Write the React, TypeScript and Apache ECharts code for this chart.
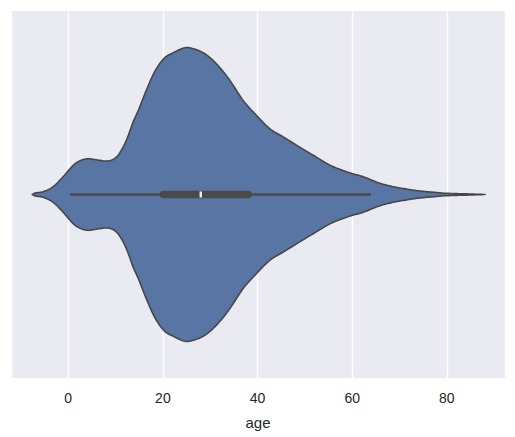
import React, { useEffect, useRef } from "react";
import * as echarts from "echarts";

// Violin outline: age values and relative density (max = 1)
const ages = [-7.6, -7.0, -5.3, -3.2, -1.1, 1.1, 2.5, 4.2, 5.6, 8.5, 10.2, 11.6, 12.7, 13.7, 14.8, 15.9, 16.9, 18.0, 19.0, 20.4, 22.2, 24.7, 26.4, 28.5, 30.3, 32.1, 34.2, 37.0, 39.8, 42.6, 45.5, 48.3, 51.8, 55.3, 58.9, 62.4, 65.9, 68.7, 71.5, 73.7, 77.2, 80, 84.2, 88.1];
const density = [0, 0.01, 0.019, 0.053, 0.12, 0.2, 0.23, 0.244, 0.238, 0.229, 0.256, 0.323, 0.403, 0.493, 0.572, 0.662, 0.741, 0.82, 0.876, 0.932, 0.966, 1.0, 0.993, 0.966, 0.922, 0.862, 0.775, 0.639, 0.538, 0.448, 0.391, 0.335, 0.267, 0.2, 0.154, 0.12, 0.076, 0.053, 0.037, 0.026, 0.015, 0.008, 0.004, 0];

// Box statistics
const whiskerLow = 0.42;
const q1 = 20.125;
const median = 28;
const q3 = 38;
const whiskerHigh = 64;

const tickValues = [0, 20, 40, 60, 80];
const axisName = "age";

const VIOLIN_HALF = 0.4;

// Smooth function-form Hermite spline through pixel points (x increasing)
function smoothCurve(pts: number[][], steps: number): number[][] {
  const n = pts.length;
  const m: number[] = [];
  for (let i = 0; i < n; i++) {
    if (i === 0) m.push((pts[1][1] - pts[0][1]) / (pts[1][0] - pts[0][0]));
    else if (i === n - 1) m.push((pts[n - 1][1] - pts[n - 2][1]) / (pts[n - 1][0] - pts[n - 2][0]));
    else m.push((pts[i + 1][1] - pts[i - 1][1]) / (pts[i + 1][0] - pts[i - 1][0]));
  }
  const out: number[][] = [];
  for (let i = 0; i < n - 1; i++) {
    const x0 = pts[i][0];
    const x1 = pts[i + 1][0];
    const y0 = pts[i][1];
    const y1 = pts[i + 1][1];
    const h = x1 - x0;
    for (let s = 0; s < steps; s++) {
      const t = s / steps;
      const t2 = t * t;
      const t3 = t2 * t;
      const h00 = 2 * t3 - 3 * t2 + 1;
      const h10 = t3 - 2 * t2 + t;
      const h01 = -2 * t3 + 3 * t2;
      const h11 = t3 - t2;
      out.push([x0 + h * t, h00 * y0 + h10 * h * m[i] + h01 * y1 + h11 * h * m[i + 1]]);
    }
  }
  out.push(pts[n - 1]);
  return out;
}

export default function App() {
  const ref = useRef<HTMLDivElement>(null);
  useEffect(() => {
    if (!ref.current) return;
    const chart = echarts.init(ref.current, null, { renderer: "svg" });
    const fontFamily = "'Liberation Sans', Arial, sans-serif";
    chart.setOption({
      animation: false,
      backgroundColor: "#ffffff",
      grid: {
        left: 11,
        right: 10,
        top: 11,
        bottom: 59,
        show: true,
        backgroundColor: "#eaeaf2",
        borderWidth: 0,
      },
      xAxis: {
        type: "value",
        min: -12.1,
        max: 92.3,
        axisLine: { show: false },
        axisTick: { show: false },
        splitLine: { show: true, lineStyle: { color: "#ffffff", width: 1.4 } },
        axisLabel: {
          customValues: tickValues,
          color: "#262626",
          fontSize: 14,
          fontFamily,
          margin: 13,
        },
        name: axisName,
        nameLocation: "middle",
        nameGap: 37,
        nameTextStyle: { color: "#262626", fontSize: 15, fontFamily },
      },
      yAxis: {
        type: "value",
        min: -0.5,
        max: 0.5,
        show: false,
        splitLine: { show: false },
      },
      series: [
        {
          type: "custom",
          data: [[0]],
          renderItem: (params: any, api: any) => {
            const center = api.coord([0, 0]);
            const cy = center[1];
            const upper = ages.map((a, i) => api.coord([a, density[i] * VIOLIN_HALF]));
            const smoothUpper = smoothCurve(upper, 10).map((p) => [p[0], Math.min(p[1], cy)]);
            const lower = smoothUpper.map((p) => [p[0], 2 * cy - p[1]]).reverse();
            const poly = smoothUpper.concat(lower);
            const wl = api.coord([whiskerLow, 0]);
            const wh = api.coord([whiskerHigh, 0]);
            const b1 = api.coord([q1, 0]);
            const b3 = api.coord([q3, 0]);
            const md = api.coord([median, 0]);
            return {
              type: "group",
              children: [
                {
                  type: "polygon",
                  shape: { points: poly },
                  style: { fill: "#5875a4", stroke: "#474747", lineWidth: 1.6, lineJoin: "round" },
                },
                {
                  type: "line",
                  shape: { x1: wl[0], y1: cy, x2: wh[0], y2: cy },
                  style: { stroke: "#4a4a4a", lineWidth: 2.4 },
                },
                {
                  type: "line",
                  shape: { x1: b1[0], y1: cy, x2: b3[0], y2: cy },
                  style: { stroke: "#4a4a4a", lineWidth: 7.6, lineCap: "round" },
                },
                {
                  type: "rect",
                  shape: { x: md[0] - 1.2, y: cy - 3, width: 2.4, height: 6 },
                  style: { fill: "#f0f0f0" },
                },
              ],
            };
          },
        },
      ],
    });
    return () => chart.dispose();
  }, []);
  return (
    <div
      ref={ref}
      style={{ position: "absolute", left: 0, top: 0, width: 515, height: 437 }}
    />
  );
}
